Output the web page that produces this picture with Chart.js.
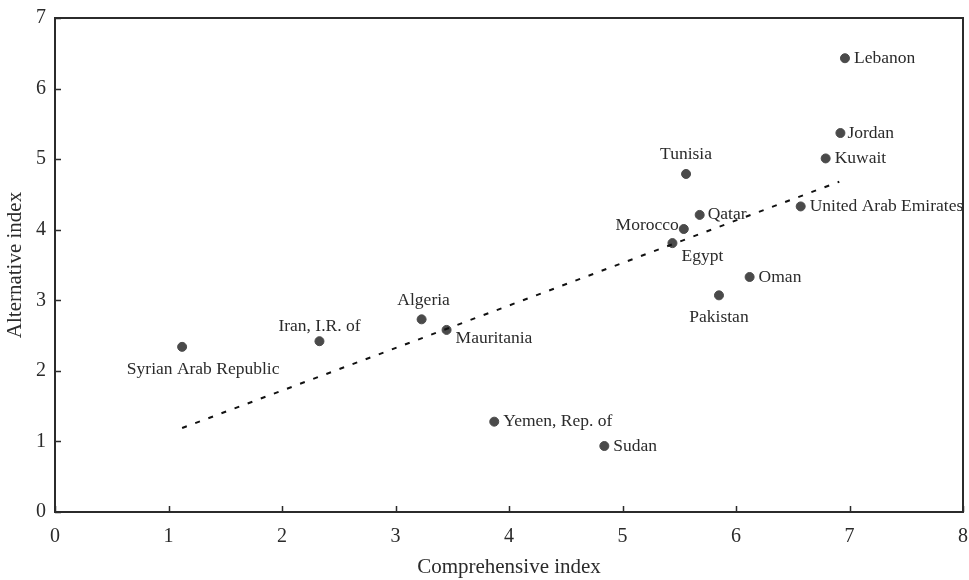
<!DOCTYPE html>
<html>
<head>
<meta charset="utf-8">
<style>
  html, body { margin: 0; padding: 0; background: #fff; }
  #wrap { width: 969px; height: 580px; }
</style>
<script src="https://cdn.jsdelivr.net/npm/chart.js@4.4.1/dist/chart.umd.min.js"></script>
</head>
<body>
<div id="wrap"><canvas id="scatterChart"></canvas></div>
<script>
const countries = ["Lebanon", "Jordan", "Kuwait", "Tunisia", "United Arab Emirates", "Qatar", "Morocco",
  "Egypt", "Oman", "Pakistan", "Syrian Arab Republic", "Iran, I.R. of", "Algeria", "Mauritania",
  "Yemen, Rep. of", "Sudan"];
const comprehensive = [6.96, 6.92, 6.79, 5.56, 6.57, 5.68, 5.54, 5.44, 6.12, 5.85, 1.12, 2.33, 3.23, 3.45, 3.87, 4.84];
const alternative = [6.43, 5.37, 5.01, 4.79, 4.33, 4.21, 4.01, 3.81, 3.33, 3.07, 2.34, 2.42, 2.73, 2.58, 1.28, 0.935];

const trendX = [1.12, 6.91];
const trendY = [1.19, 4.68];

const xTicks = [0, 1, 2, 3, 4, 5, 6, 7, 8];
const yTicks = [0, 1, 2, 3, 4, 5, 6, 7];

// where each label sits relative to its dot: [dx, dy, align]
const labelPlace = {
  "Lebanon": [9, 0, "left"],
  "Jordan": [7, 0, "left"],
  "Kuwait": [9, 0, "left"],
  "Tunisia": [0, -20, "center"],
  "United Arab Emirates": [9, 0, "left"],
  "Qatar": [8, 0, "left"],
  "Morocco": [-5, -4, "right"],
  "Egypt": [9, 13, "left"],
  "Oman": [9, 0, "left"],
  "Pakistan": [0, 22, "center"],
  "Syrian Arab Republic": [21, 23, "center"],
  "Iran, I.R. of": [0, -15, "center"],
  "Algeria": [2, -19, "center"],
  "Mauritania": [9, 8, "left"],
  "Yemen, Rep. of": [9, 0, "left"],
  "Sudan": [9, 0, "left"]
};

const points = comprehensive.map((x, i) => ({ x: x, y: alternative[i] }));
const trend = trendX.map((x, i) => ({ x: x, y: trendY[i] }));

const ink = "#2b2b2b";
const serif = "'Liberation Serif', 'DejaVu Serif', serif";

const framePlugin = {
  id: "frame",
  afterDatasetsDraw(chart) {
    const { ctx, chartArea: a, scales } = chart;
    ctx.save();
    ctx.strokeStyle = ink;
    ctx.lineWidth = 2;
    ctx.strokeRect(a.left, a.top, a.right - a.left, a.bottom - a.top);
    ctx.lineWidth = 1.5;
    ctx.beginPath();
    xTicks.forEach(v => {
      const px = Math.round(scales.x.getPixelForValue(v)) + 0.5;
      ctx.moveTo(px, a.bottom);
      ctx.lineTo(px, a.bottom - 6);
    });
    yTicks.forEach(v => {
      const py = Math.round(scales.y.getPixelForValue(v)) + 0.5;
      ctx.moveTo(a.left, py);
      ctx.lineTo(a.left + 6, py);
    });
    ctx.stroke();

    // country labels
    ctx.font = "17.5px " + serif;
    ctx.fillStyle = ink;
    ctx.textBaseline = "middle";
    const meta = chart.getDatasetMeta(1);
    meta.data.forEach((el, i) => {
      const p = labelPlace[countries[i]];
      ctx.textAlign = p[2];
      ctx.fillText(countries[i], el.x + p[0], el.y + p[1]);
    });
    ctx.restore();
  }
};

new Chart(document.getElementById("scatterChart"), {
  type: "scatter",
  data: {
    datasets: [
      {
        type: "line",
        data: trend,
        borderColor: "#111",
        borderWidth: 2,
        borderDash: [5, 9],
        pointRadius: 0,
        fill: false
      },
      {
        data: points,
        backgroundColor: "#4a4a4a",
        borderColor: "#4a4a4a",
        pointRadius: 4.5,
        pointHoverRadius: 4.5
      }
    ]
  },
  options: {
    responsive: true,
    maintainAspectRatio: false,
    animation: false,
    layout: { padding: { top: 18, right: 6, left: 0, bottom: 0 } },
    plugins: { legend: { display: false }, tooltip: { enabled: false } },
    scales: {
      x: {
        type: "linear",
        min: 0,
        max: 8,
        afterFit(scale) {
          scale.height = 68;
          scale.paddingLeft = 0;
          scale.paddingRight = 0;
        },
        afterBuildTicks(scale) { scale.ticks = xTicks.map(v => ({ value: v })); },
        grid: { display: false, drawTicks: false },
        border: { display: false },
        ticks: { color: ink, padding: 13, font: { family: serif, size: 20 } },
        title: { display: true, text: "Comprehensive index", color: ink, padding: { top: 4, bottom: 0 }, font: { family: serif, size: 21 } }
      },
      y: {
        type: "linear",
        min: 0,
        max: 7,
        afterFit(scale) {
          scale.width = 55;
          scale.paddingTop = 0;
          scale.paddingBottom = 0;
        },
        afterBuildTicks(scale) { scale.ticks = yTicks.map(v => ({ value: v })); },
        grid: { display: false, drawTicks: false },
        border: { display: false },
        ticks: { color: ink, padding: 9, font: { family: serif, size: 20 } },
        title: { display: true, text: "Alternative index", color: ink, padding: { top: 3, bottom: 4 }, font: { family: serif, size: 21 } }
      }
    }
  },
  plugins: [framePlugin]
});
</script>
</body>
</html>
